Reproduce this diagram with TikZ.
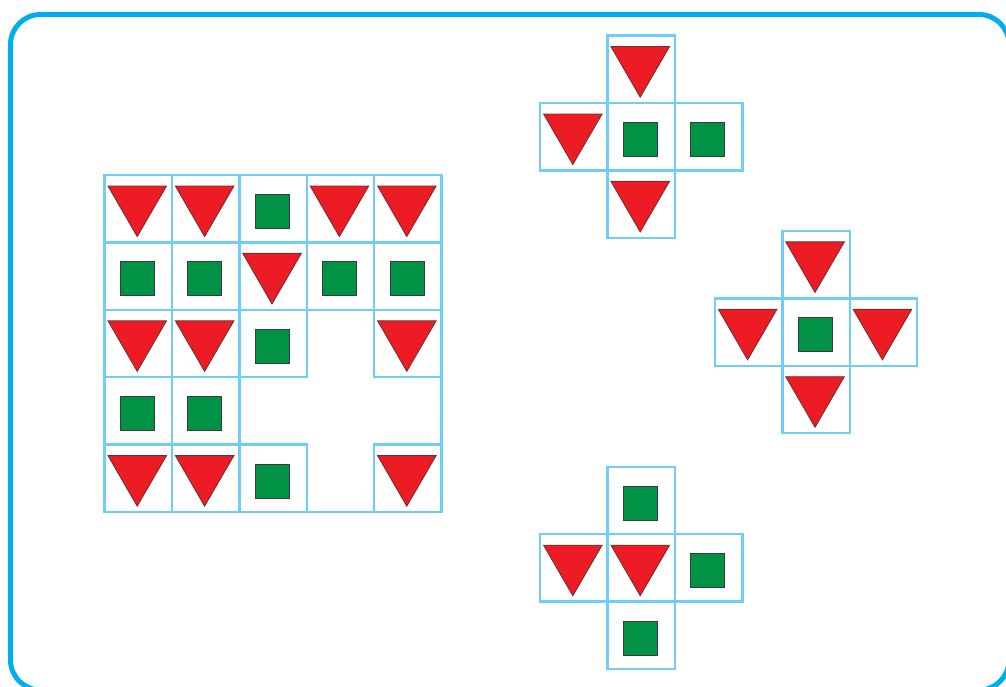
\documentclass[tikz,border=0pt]{standalone}
\usetikzlibrary{calc}
\definecolor{framec}{HTML}{00AEEF}
\definecolor{gridc}{HTML}{6DCFF6}
\definecolor{redc}{HTML}{ED1C24}
\definecolor{greenc}{HTML}{009245}
\definecolor{edgec}{HTML}{3A3A3A}
\tikzset{
  x=1pt, y=-1pt,
  gridl/.style={draw=gridc, line width=2.4pt},
  frame/.style={draw=framec, line width=5pt, rounded corners=30pt},
  tri/.pic={\filldraw[fill=redc, draw=edgec!70!redc, line width=0.9pt, line join=miter]
     (3.5,11) -- (62,11) -- (32.7,61.5) -- cycle;},
  sq/.pic={\filldraw[fill=greenc, draw=edgec, line width=1.1pt]
     (16,19.5) rectangle (50,53.5);},
  none/.pic={},
}
\newcommand\cellsz{67.4}
\begin{document}
\begin{tikzpicture}
\useasboundingbox (0,0) rectangle (1006,686);
\draw[frame] (10.5,14.5) rectangle (1009,690);
% main grid
\foreach \c/\r/\k in {0/0/tri,1/0/tri,2/0/sq,3/0/tri,4/0/tri,
  0/1/sq,1/1/sq,2/1/tri,3/1/sq,4/1/sq,
  0/2/tri,1/2/tri,2/2/sq,4/2/tri,
  0/3/sq,1/3/sq,
  0/4/tri,1/4/tri,2/4/sq,4/4/tri}{
  \coordinate (m) at ({104.5+\c*\cellsz},{175+\r*\cellsz});
  \draw[gridl] (m) rectangle ++(\cellsz,\cellsz);
  \pic at (m) {\k};
}
\draw[gridl] (104.5,175) rectangle ({104.5+5*\cellsz},{175+5*\cellsz});
% crosses: center top-left corner, then top/left/center/right/bottom contents
\foreach \x/\y/\ka/\kb/\kc/\kd/\ke in {
  607.5/103/tri/tri/sq/sq/tri,
  782.3/298.3/tri/tri/sq/tri/tri,
  607.5/534.2/sq/tri/tri/sq/sq}{
  \foreach \dx/\dy/\k in {0/-1/\ka,-1/0/\kb,0/0/\kc,1/0/\kd,0/1/\ke}{
    \coordinate (m) at ({\x+\dx*\cellsz},{\y+\dy*\cellsz});
    \draw[gridl] (m) rectangle ++(\cellsz,\cellsz);
    \pic at (m) {\k};
  }
}
\end{tikzpicture}
\end{document}
